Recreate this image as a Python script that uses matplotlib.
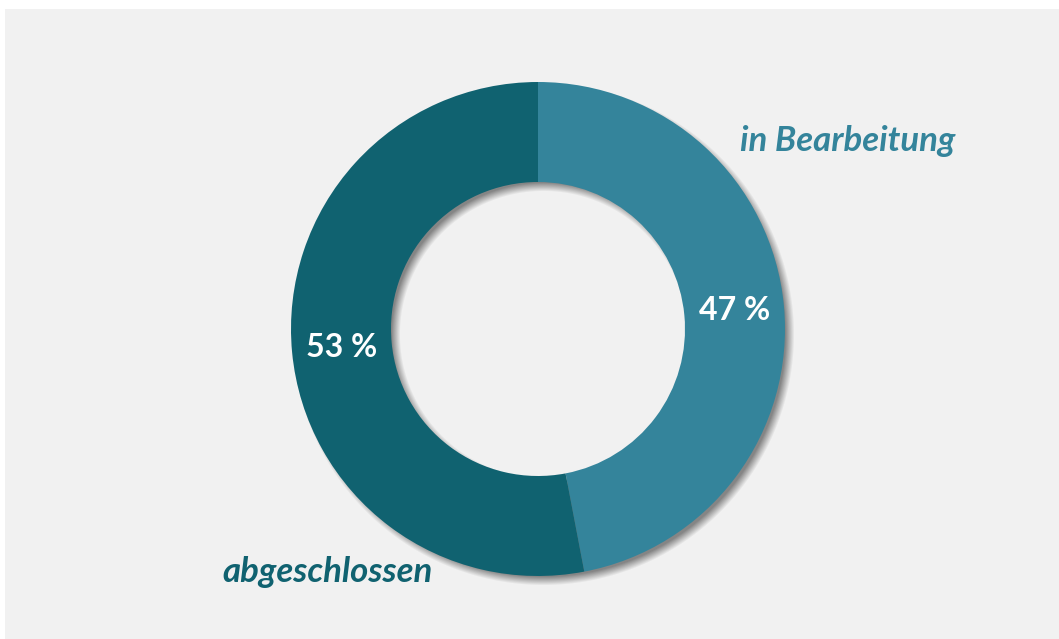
import numpy as np
import matplotlib
matplotlib.use("Agg")
import matplotlib.pyplot as plt
from matplotlib.patches import Rectangle

# data
labels = ["in Bearbeitung", "abgeschlossen"]
values = [47, 53]
colors = ["#34849b", "#106270"]

W, H = 1059, 639
fig = plt.figure(figsize=(W / 100, H / 100), dpi=100)
fig.patch.set_facecolor("white")
ax = fig.add_axes([0, 0, 1, 1])
ax.set_xlim(0, W)
ax.set_ylim(0, H)
ax.set_aspect("equal")
ax.axis("off")

# grey panel with a thin white margin at the top/left
ax.add_patch(Rectangle((5, 0), W - 5, H - 9, facecolor="#f1f1f1", edgecolor="none", zorder=0))

cx, cy = 538, H - 329
r_out, ring = 247, 100
r_in = r_out - ring

# soft drop shadow below the ring
yy, xx = np.mgrid[0:H, 0:W]
d = np.hypot(xx - (cx + 5), yy - (cy - 6))
a = np.clip((r_out + 4 - d) / 9, 0, 1) * np.clip((d - r_in + 4) / 9, 0, 1) * 0.45
shadow = np.zeros((H, W, 4))
shadow[..., 3] = a
ax.imshow(shadow, extent=(0, W, 0, H), origin="lower", zorder=1, interpolation="bilinear")

wedges, texts, autotexts = ax.pie(
    values, colors=colors, startangle=90, counterclock=False,
    center=(cx, cy), radius=r_out, autopct=lambda p: f"{round(p)} %", pctdistance=0.8,
    wedgeprops=dict(width=ring, edgecolor="none"),
    textprops=dict(color="white", fontsize=23, fontweight="bold", family=["Lato", "DejaVu Sans"]),
    frame=True,
)
for w in wedges:
    w.set_zorder(2)
for t in autotexts:
    t.set_zorder(3)
ax.set_xlim(0, W)
ax.set_ylim(0, H)
ax.axis("off")

ax.text(740, H - 141, labels[0], color=colors[0], fontsize=25, fontweight="bold",
        style="italic", family=["Lato", "DejaVu Sans"], ha="left", va="center", zorder=3)
ax.text(222, H - 572, labels[1], color=colors[1], fontsize=25, fontweight="bold",
        style="italic", family=["Lato", "DejaVu Sans"], ha="left", va="center", zorder=3)

fig.savefig("out.png", dpi=100, facecolor=fig.get_facecolor())
